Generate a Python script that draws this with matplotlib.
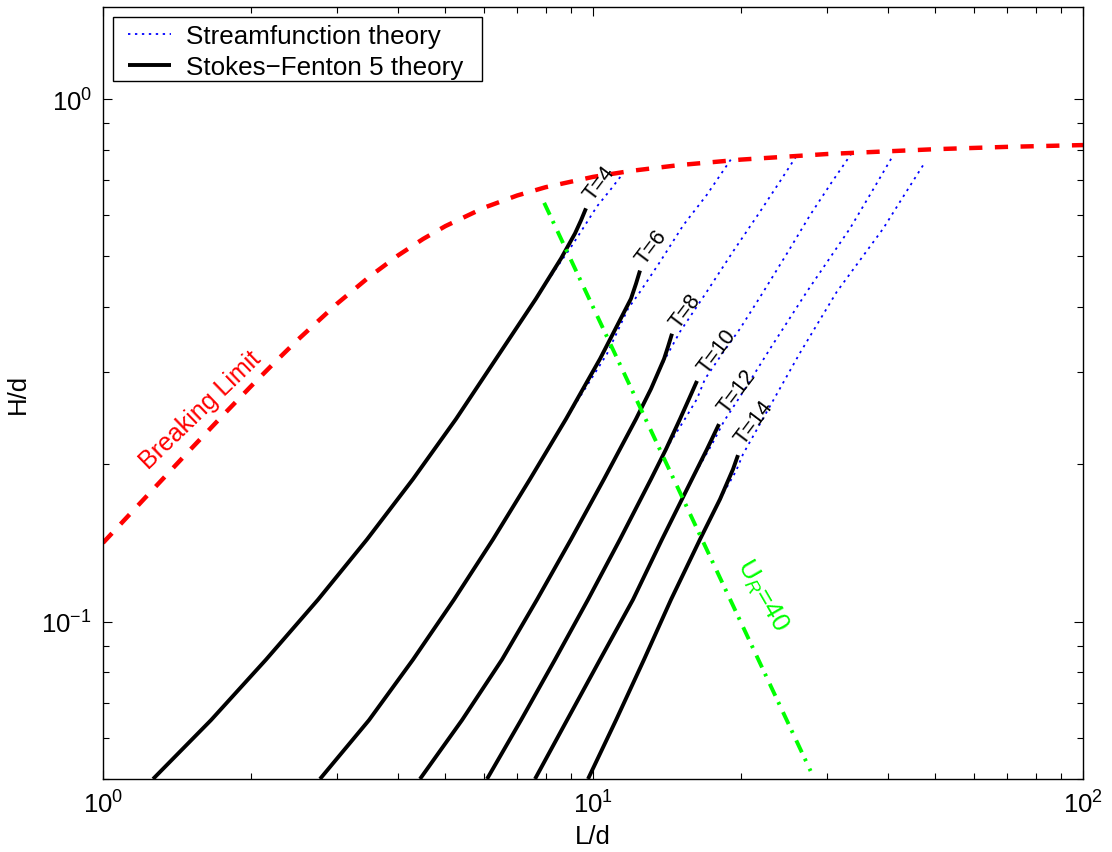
import matplotlib
matplotlib.use('Agg')
import matplotlib.pyplot as plt
from matplotlib.patches import Rectangle
from matplotlib.ticker import LogLocator, NullFormatter

plt.rcParams['font.family'] = ['Liberation Sans', 'DejaVu Sans']
plt.rcParams['mathtext.fontset'] = 'custom'
plt.rcParams['mathtext.rm'] = 'Liberation Sans'
plt.rcParams['mathtext.it'] = 'Liberation Sans:italic'
plt.rcParams['mathtext.bf'] = 'Liberation Sans:bold'
plt.rcParams['lines.scale_dashes'] = False

# ---- data (L/d, H/d) ----
periods = [4, 6, 8, 10, 12, 14]

# Stokes-Fenton 5th order (solid black)
sf5_ld_t4 = [1.265, 1.661, 2.151, 2.747, 3.458, 4.292, 5.253, 6.339, 7.65, 8.604, 9.189, 9.452, 9.676]
sf5_hd_t4 = [0.05, 0.0648, 0.0846, 0.1102, 0.1437, 0.1874, 0.2442, 0.3183, 0.415, 0.4952, 0.5531, 0.5859, 0.6178]
sf5_ld_t6 = [2.772, 3.49, 4.292, 5.204, 6.251, 7.438, 8.808, 10.335, 11.955, 12.239, 12.471]
sf5_hd_t6 = [0.05, 0.0648, 0.0846, 0.1102, 0.1437, 0.1874, 0.2442, 0.3183, 0.415, 0.4432, 0.4697]
sf5_ld_t8 = [4.435, 5.403, 6.52, 7.686, 9.018, 10.531, 12.239, 13.134, 13.964, 14.225, 14.495]
sf5_hd_t8 = [0.05, 0.0648, 0.0846, 0.1102, 0.1437, 0.1874, 0.2442, 0.2789, 0.3183, 0.3357, 0.3556]
sf5_ld_t10 = [6.077, 7.13, 8.365, 9.768, 11.352, 13.134, 14.092, 15.05, 15.701, 16.302]
sf5_hd_t10 = [0.05, 0.0648, 0.0846, 0.1102, 0.1437, 0.1874, 0.2138, 0.2442, 0.2668, 0.2888]
sf5_ld_t12 = [7.614, 8.85, 10.335, 12.068, 13.83, 15.924, 17.086, 18.078]
sf5_hd_t12 = [0.05, 0.0648, 0.0846, 0.1102, 0.1437, 0.1874, 0.2138, 0.2388]
sf5_ld_t14 = [9.768, 11.141, 12.707, 14.427, 16.534, 18.163, 19.307, 19.766]
sf5_hd_t14 = [0.05, 0.0648, 0.0846, 0.1102, 0.1437, 0.1715, 0.1957, 0.2083]

# streamfunction theory (blue dotted), upper part up to breaking
sfn_ld_t4 = [7.65, 8.404, 8.978, 9.541, 10.19, 10.83, 11.45]
sfn_hd_t4 = [0.415, 0.4738, 0.5176, 0.5656, 0.6232, 0.6688, 0.7157]
sfn_ld_t6 = [8.808, 10.68, 11.79, 12.47, 13.7, 15.29, 17.06, 19.19]
sfn_hd_t6 = [0.2442, 0.3254, 0.397, 0.4275, 0.488, 0.5738, 0.6551, 0.7705]
sfn_ld_t8 = [12.239, 13.96, 15.05, 17.06, 19.31, 21.92, 24.08, 26.24]
sfn_hd_t8 = [0.2442, 0.3155, 0.3587, 0.4275, 0.5108, 0.6087, 0.6958, 0.7879]
sfn_ld_t10 = [14.092, 15.4, 16.3, 16.93, 18.34, 19.95, 22.26, 24.88, 27.73, 30.6, 33.73]
sfn_hd_t10 = [0.2138, 0.2442, 0.2668, 0.2914, 0.3254, 0.3634, 0.4275, 0.5064, 0.5995, 0.6898, 0.7879]
sfn_ld_t12 = [15.924, 17.5, 18.51, 20.43, 22.97, 27.3, 33.46, 37.11, 41.03]
sfn_hd_t12 = [0.1874, 0.2187, 0.2419, 0.2789, 0.3326, 0.4275, 0.5656, 0.6659, 0.7819]
sfn_ld_t14 = [18.163, 19.58, 20.24, 22.44, 26.45, 31.43, 39.13, 43.13, 47.21]
sfn_hd_t14 = [0.1715, 0.1941, 0.2092, 0.2486, 0.3268, 0.4275, 0.5656, 0.6543, 0.748]

# breaking limit (red dashed)
brk_ld = [1, 1.25, 1.5, 1.75, 2, 2.25, 2.5, 3, 3.5, 4, 4.5, 5, 6, 7, 8, 10, 12, 15, 20, 30, 50, 70, 100]
brk_hd = [0.1415, 0.177, 0.2124, 0.2473, 0.2815, 0.3146, 0.3465, 0.4055, 0.4574, 0.502, 0.5398,
          0.5714, 0.6198, 0.6537, 0.678, 0.7096, 0.729, 0.7475, 0.7657, 0.7848, 0.8018, 0.81, 0.8164]

# Ursell number = 40 (green dash-dot)
ur_ld = [7.95, 27.8]
ur_hd = [0.633, 0.0518]

# label anchor points for each period
lab_ld = [10.33, 13.13, 15.41, 17.91, 19.67, 21.31]
lab_hd = [0.693, 0.5225, 0.3936, 0.3297, 0.2764, 0.241]

sf5_ld = [sf5_ld_t4, sf5_ld_t6, sf5_ld_t8, sf5_ld_t10, sf5_ld_t12, sf5_ld_t14]
sf5_hd = [sf5_hd_t4, sf5_hd_t6, sf5_hd_t8, sf5_hd_t10, sf5_hd_t12, sf5_hd_t14]
sfn_ld = [sfn_ld_t4, sfn_ld_t6, sfn_ld_t8, sfn_ld_t10, sfn_ld_t12, sfn_ld_t14]
sfn_hd = [sfn_hd_t4, sfn_hd_t6, sfn_hd_t8, sfn_hd_t10, sfn_hd_t12, sfn_hd_t14]

fig = plt.figure(figsize=(11.12, 8.53), dpi=100)
ax = fig.add_axes([103 / 1112, 73 / 853, 980 / 1112, 772 / 853])

for i in range(len(periods)):
    l_sfn, = ax.plot(sfn_ld[i], sfn_hd[i], color=(0, 0, 1), lw=1.3, dashes=(1.7, 3.3))
for i in range(len(periods)):
    l_sf5, = ax.plot(sf5_ld[i], sf5_hd[i], color='k', lw=2.8,
                     solid_capstyle='butt', solid_joinstyle='round')

ax.plot(brk_ld, brk_hd, color=(1, 0, 0), lw=3.2, dashes=(9.5, 9), dash_capstyle='butt')
ax.plot(ur_ld, ur_hd, color=(0, 1, 0), lw=2.8, dashes=(9.5, 5, 2, 6), dash_capstyle='butt')

for T, x, y in zip(periods, lab_ld, lab_hd):
    ax.text(x, y, 'T=%d' % T, fontsize=15.5, rotation=53, ha='center', va='center')

ax.text(1.578, 0.255, 'Breaking Limit', color=(1, 0, 0), fontsize=18,
        rotation=44, ha='center', va='center')
ax.text(22.13, 0.1127, r'U$_R$=40', color=(0, 1, 0), fontsize=19,
        rotation=-60, ha='center', va='center')

ax.set_xscale('log')
ax.set_yscale('log')
ax.set_xlim(1, 100)
ax.set_ylim(0.05, 1.5)
ax.xaxis.set_major_locator(LogLocator(base=10))
ax.xaxis.set_minor_locator(LogLocator(base=10, subs=range(2, 10)))
ax.yaxis.set_minor_locator(LogLocator(base=10, subs=range(2, 10)))
ax.xaxis.set_minor_formatter(NullFormatter())
ax.yaxis.set_minor_formatter(NullFormatter())
ax.tick_params(which='both', direction='in', top=True, right=True, labelsize=18.5, width=0.8)
ax.tick_params(which='major', length=6.5, pad=8)
ax.tick_params(which='minor', length=4.3)
for s in ax.spines.values():
    s.set_linewidth(1.0)

ax.set_xlabel('L/d', fontsize=18.5, labelpad=5)
ax.set_ylabel('H/d', fontsize=18.5, labelpad=8)

# legend: frame drawn separately so the padding matches the original box
frame = Rectangle((0.0102, 0.9041), 0.3765, 0.0829, transform=ax.transAxes,
                  facecolor='white', edgecolor='k', lw=1.0, zorder=4)
ax.add_patch(frame)
leg = ax.legend([l_sfn, l_sf5], ['Streamfunction theory', 'Stokes\u2212Fenton 5 theory'],
                loc='upper left', bbox_to_anchor=(0.0255, 0.9783), borderaxespad=0,
                borderpad=0, fontsize=18.7, frameon=False,
                handlelength=1.65, handletextpad=0.6, labelspacing=0.28)
leg.set_zorder(5)

fig.savefig('out.png', dpi=100)
